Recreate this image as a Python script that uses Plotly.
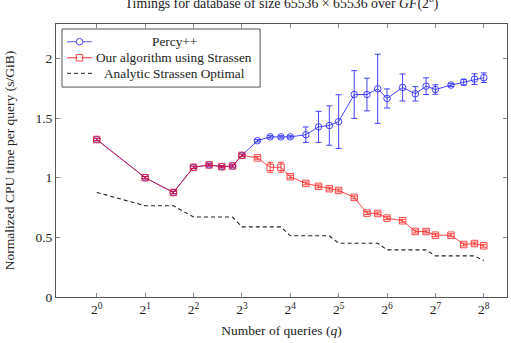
import plotly.graph_objects as go
import math

# ---- data ----
queries = [1, 2, 3, 4, 5, 6, 7, 8, 10, 12, 14, 16, 20, 24, 28, 32, 40, 48, 56, 64,
           80, 96, 112, 128, 160, 192, 224, 256]

percy = [1.32, 1.00, 0.876, 1.087, 1.107, 1.092, 1.098, 1.187, 1.31, 1.342, 1.342, 1.342,
         1.36, 1.426, 1.437, 1.47, 1.697, 1.697, 1.745, 1.664, 1.756, 1.703, 1.767, 1.739,
         1.776, 1.80, 1.826, 1.838]
percy_err = [0.01, 0.01, 0.01, 0.01, 0.01, 0.01, 0.01, 0.01, 0.01, 0.01, 0.01, 0.01,
             0.065, 0.13, 0.165, 0.225, 0.2, 0.137, 0.29, 0.08, 0.113, 0.06, 0.07, 0.04,
             0.012, 0.025, 0.045, 0.04]

strassen = [1.32, 1.00, 0.876, 1.087, 1.107, 1.092, 1.098, 1.187, 1.166, 1.087, 1.087, 1.008,
            0.952, 0.927, 0.908, 0.893, 0.835, 0.703, 0.70, 0.661, 0.639, 0.549, 0.549, 0.518,
            0.518, 0.44, 0.448, 0.429]
strassen_err = [0.01, 0.01, 0.01, 0.01, 0.01, 0.01, 0.01, 0.01, 0.012, 0.042, 0.042, 0.012,
                0.012, 0.012, 0.012, 0.012, 0.012, 0.012, 0.012, 0.012, 0.012, 0.012, 0.012, 0.012,
                0.012, 0.012, 0.012, 0.012]

analytic = [0.876, 0.765, 0.765, 0.67, 0.67, 0.67, 0.67, 0.588, 0.588, 0.588, 0.588, 0.513,
            0.513, 0.513, 0.513, 0.451, 0.451, 0.451, 0.451, 0.395, 0.395, 0.395, 0.395, 0.345,
            0.345, 0.345, 0.345, 0.305]

series_names = ["Percy++", "Our algorithm using Strassen", "Analytic Strassen Optimal"]

xtick_vals = [1, 2, 4, 8, 16, 32, 64, 128, 256]
xtick_text = ["2<sup>%d</sup>" % i for i in range(9)]
ytick_vals = [0, 0.5, 1, 1.5, 2]
ytick_text = ["0", "0.5", "1", "1.5", "2"]

FONT = "Liberation Serif"
FS = 13.5
BLUE = "#3030ff"
RED = "#ff0000"
BLACK = "#222222"
DASH = "4px,3px"

# plot-area geometry (pixels) used for the hand-built legend box
PL, PR, PT, PB = 56.0, 506.7, 24.0, 296.7


def px(xpix):
    return (xpix - PL) / (PR - PL)


def py(ypix):
    return (PB - ypix) / (PB - PT)


fig = go.Figure()
fig.add_trace(go.Scatter(
    x=queries, y=percy, name=series_names[0], mode="lines+markers",
    line=dict(color=BLUE, width=0.9),
    marker=dict(symbol="circle-open", size=6.5, color=BLUE, line=dict(width=0.9)),
    error_y=dict(type="data", array=percy_err, color=BLUE, thickness=0.9, width=3),
    showlegend=False,
))
fig.add_trace(go.Scatter(
    x=queries, y=strassen, name=series_names[1], mode="lines+markers",
    line=dict(color=RED, width=0.9), opacity=0.8,
    marker=dict(symbol="square-open", size=6.5, color=RED, line=dict(width=0.9)),
    error_y=dict(type="data", array=strassen_err, color=RED, thickness=0.9, width=3),
    showlegend=False,
))
fig.add_trace(go.Scatter(
    x=queries, y=analytic, name=series_names[2], mode="lines",
    line=dict(color=BLACK, width=1.1, dash=DASH),
    showlegend=False,
))

# ---- legend (box, samples, centred labels) ----
shapes = []
annotations = []
shapes.append(dict(type="rect", xref="paper", yref="paper",
                   x0=px(62), x1=px(260), y0=py(87), y1=py(29),
                   line=dict(color="#555555", width=1), fillcolor="white", layer="above"))
rows = [41.7, 57.7, 73.3]
styles = [(BLUE, "solid", 0.8), (RED, "solid", 0.8), (BLACK, DASH, 1.0)]
for (col, dash, op), yrow, name in zip(styles, rows, series_names):
    shapes.append(dict(type="line", xref="paper", yref="paper",
                       x0=px(67), x1=px(92), y0=py(yrow), y1=py(yrow),
                       line=dict(color=col, width=1.0, dash=dash), opacity=op, layer="above"))
    annotations.append(dict(text=name, xref="paper", yref="paper",
                            x=px(174), y=py(yrow), xanchor="center", yanchor="middle",
                            showarrow=False, font=dict(family=FONT, size=13.3, color=BLACK)))
shapes.append(dict(type="circle", xref="paper", yref="paper",
                   x0=px(79.5 - 3.3), x1=px(79.5 + 3.3), y0=py(rows[0] + 3.3), y1=py(rows[0] - 3.3),
                   line=dict(color=BLUE, width=0.9), fillcolor="white", layer="above"))
shapes.append(dict(type="rect", xref="paper", yref="paper",
                   x0=px(79.5 - 3.2), x1=px(79.5 + 3.2), y0=py(rows[1] + 3.2), y1=py(rows[1] - 3.2),
                   line=dict(color=RED, width=0.9), fillcolor="white", opacity=0.8, layer="above"))

axis_common = dict(
    showline=True, linecolor="#555555", linewidth=1, mirror="allticks",
    ticks="inside", ticklen=4, tickcolor="#888888", tickwidth=1,
    showgrid=False, zeroline=False,
    tickfont=dict(family=FONT, size=FS, color=BLACK),
)

fig.update_layout(
    width=511, height=343,
    margin=dict(l=PL, r=511 - PR, t=PT, b=343 - PB),
    paper_bgcolor="white", plot_bgcolor="white",
    font=dict(family=FONT, size=FS, color=BLACK),
    title=dict(
        text="Timings for database of size 65536 × 65536 over <i>GF</i>(2<sup>8</sup>)",
        x=0.5, xref="paper", y=(343 - 8) / 343, yref="container", yanchor="bottom",
        font=dict(family=FONT, size=13.8, color=BLACK),
    ),
    xaxis=dict(
        type="log", range=[-0.842 * math.log10(2), 8.48 * math.log10(2)],
        tickvals=xtick_vals, ticktext=xtick_text,
        title=dict(text="Number of queries (<i>q</i>)", standoff=9,
                   font=dict(family=FONT, size=FS)),
        **axis_common,
    ),
    yaxis=dict(
        range=[0, 2.288], tickvals=ytick_vals, ticktext=ytick_text,
        title=dict(text="Normalized CPU time per query (s/GiB)", standoff=17,
                   font=dict(family=FONT, size=FS)),
        **axis_common,
    ),
    shapes=shapes,
    annotations=annotations,
    showlegend=False,
)

fig.write_html("out.html")
